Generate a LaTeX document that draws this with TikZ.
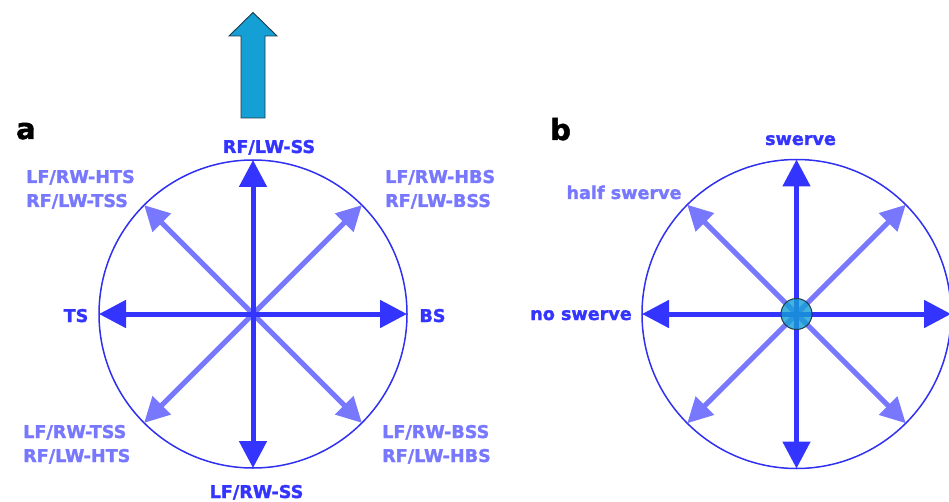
\documentclass[tikz,border=0pt]{standalone}
\usepackage{fontspec}
\setmainfont[BoldFeatures={FakeBold=1.6}]{DejaVu Sans}
\usetikzlibrary{arrows.meta,calc}
\definecolor{mainblue}{HTML}{3434FF}
\definecolor{lightblue}{HTML}{7878FF}
\definecolor{ringblue}{HTML}{3030F0}
\definecolor{bigarrow}{HTML}{149FD5}
\definecolor{darkline}{HTML}{1F3A4A}
\tikzset{
  ring/.style={draw=ringblue, line width=1.5pt},
  mainarr/.style={draw=mainblue, line width=5pt, -{Triangle[length=27pt,width=27pt]}},
  lightarr/.style={draw=lightblue, line width=5pt, -{Triangle[length=25pt,width=25pt]}},
  lbl/.style={inner sep=0pt, font=\bfseries\fontsize{17.6}{20}\selectfont},
  mainlbl/.style={lbl, text=mainblue},
  lightlbl/.style={lbl, text=lightblue},
  panel/.style={inner sep=0pt, font=\bfseries\fontsize{29}{30}\selectfont, text=black},
}
\begin{document}
\begin{tikzpicture}[x=1pt,y=-1pt]
\useasboundingbox (0,0) rectangle (949,502);
% big arrow
\draw[fill=bigarrow, draw=darkline, line width=0.9pt]
  (241,118) -- (241,36) -- (229,36) -- (253,12.5) -- (277,36) -- (265,36) -- (265,118) -- cycle;
% panel a
\coordinate (ac) at (253,314);
\node[ring, circle, minimum size=308pt, inner sep=0pt] (aring) at (ac) {};
\foreach \ang/\nm in {45/ane,135/anw,225/asw,315/ase}{
  \coordinate (\nm) at ($(ac)+(\ang:154)$);
}
\foreach \ang/\nm in {0/ae,90/an,180/aw,270/as}{
  \coordinate (\nm) at ($(ac)+(\ang:154)$);
}
\foreach \nm in {ane,anw,asw,ase}{ \draw[lightarr] (ac) -- (\nm); }
\foreach \nm in {ae,an,aw,as}{ \draw[mainarr] (ac) -- (\nm); }
\node[panel, anchor=base west] (pa) at (16,139) {a};
\node[mainlbl, anchor=base] (lss) at (269,153) {RF/LW-SS};
\node[mainlbl, anchor=base] (lss2) at (256.5,498) {LF/RW-SS};
\node[mainlbl, anchor=base] (lts) at (76,322) {TS};
\node[mainlbl, anchor=base] (lbs) at (432.5,322) {BS};
\node[lightlbl, anchor=base west] (l1) at (26,183) {LF/RW-HTS};
\node[lightlbl, anchor=base west] (l2) at (26,207) {RF/LW-TSS};
\node[lightlbl, anchor=base west] (l3) at (385,183) {LF/RW-HBS};
\node[lightlbl, anchor=base west] (l4) at (385,207) {RF/LW-BSS};
\node[lightlbl, anchor=base west] (l5) at (23,438) {LF/RW-TSS};
\node[lightlbl, anchor=base west] (l6) at (23,462) {RF/LW-HTS};
\node[lightlbl, anchor=base west] (l7) at (382,438) {LF/RW-BSS};
\node[lightlbl, anchor=base west] (l8) at (382,462) {RF/LW-HBS};
% panel b
\coordinate (bc) at (796.5,314);
\node[ring, circle, minimum size=309pt, inner sep=0pt] (bring) at (bc) {};
\foreach \ang/\nm in {45/bne,135/bnw,225/bsw,315/bse}{
  \coordinate (\nm) at ($(bc)+(\ang:154.5)$);
}
\foreach \ang/\nm in {0/be,90/bn,180/bw,270/bs}{
  \coordinate (\nm) at ($(bc)+(\ang:154.5)$);
}
\foreach \nm in {bne,bnw,bsw,bse}{ \draw[lightarr] (bc) -- (\nm); }
\foreach \nm in {be,bn,bw,bs}{ \draw[mainarr] (bc) -- (\nm); }
\node[circle, minimum size=31pt, inner sep=0pt, fill=bigarrow, fill opacity=0.8, draw=darkline, line width=1pt] (hub) at (bc) {};
\node[panel, anchor=base west] (pb) at (550,140) {b};
\node[mainlbl, anchor=base] (sw) at (800.5,145) {swerve};
\node[lightlbl, anchor=base] (hsw) at (624,199) {half swerve};
\node[mainlbl, anchor=base] (nsw) at (581,320) {no swerve};
\end{tikzpicture}
\end{document}
